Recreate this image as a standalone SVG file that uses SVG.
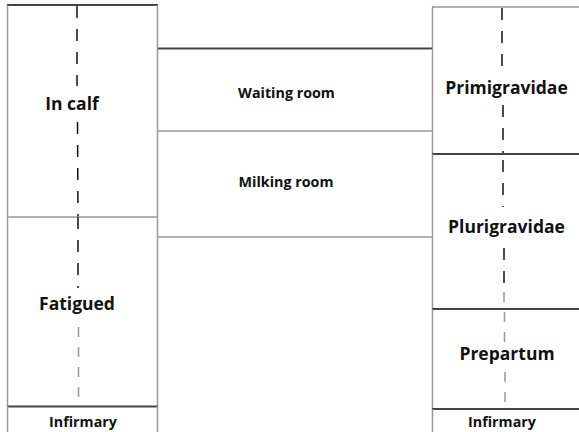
<svg xmlns="http://www.w3.org/2000/svg" width="579" height="432" viewBox="0 0 579 432">
<style>
.bg{fill:#fff}
.g{stroke:#999;stroke-width:1.5;fill:none}
.d{stroke:#444;stroke-width:2;fill:none}
.dash{stroke:#111;stroke-width:1.5;stroke-dasharray:12 11;fill:none}
.dashg{stroke:#999;stroke-width:1.5;stroke-dasharray:10 10;fill:none}
.t{font-family:"Open Sans","Liberation Sans",sans-serif;font-weight:bold;fill:#111;text-anchor:middle}
.big{font-size:17.5px}
.mid{font-size:14.3px}
.sm{font-size:14.3px}
</style>
<rect class="bg" width="579" height="432"/>
<g id="connectors">
<line class="d" x1="157" y1="48.5" x2="432" y2="48.5"/>
<line class="g" x1="157" y1="131" x2="432" y2="131"/>
<line class="g" x1="157" y1="237" x2="432" y2="237"/>
</g>
<g id="in-calf">
<line class="d" x1="7" y1="5" x2="158" y2="5"/>
<line class="g" x1="7.5" y1="5" x2="7.5" y2="217"/>
<line class="g" x1="157.5" y1="5" x2="157.5" y2="217"/>
<line class="dash" x1="77" y1="6" x2="77" y2="86"/>
<line class="dash" x1="77.5" y1="122" x2="78" y2="217"/>
<text class="t big" x="72" y="110">In calf</text>
</g>
<g id="fatigued">
<line class="g" x1="7" y1="217" x2="158" y2="217"/>
<line class="g" x1="7.5" y1="217" x2="7.5" y2="406"/>
<line class="g" x1="157.5" y1="217" x2="157.5" y2="406"/>
<line class="dash" x1="78" y1="217" x2="78" y2="288"/>
<line class="dashg" x1="78.5" y1="327" x2="78.5" y2="406"/>
<text class="t big" x="77" y="310">Fatigued</text>
</g>
<g id="infirmary-left">
<line class="d" x1="7" y1="406.5" x2="158" y2="406.5"/>
<line class="g" x1="7.5" y1="406" x2="7.5" y2="432"/>
<line class="g" x1="157.5" y1="406" x2="157.5" y2="432"/>
<text class="t sm" x="83" y="427">Infirmary</text>
</g>
<g id="waiting-room">
<text class="t mid" x="286.5" y="98">Waiting room</text>
</g>
<g id="milking-room">
<text class="t mid" x="286" y="187">Milking room</text>
</g>
<g id="primigravidae">
<line class="g" x1="432" y1="7" x2="579" y2="7"/>
<line class="g" x1="432.5" y1="7" x2="432.5" y2="154"/>
<line class="dash" x1="502" y1="8" x2="502" y2="70"/>
<line class="dash" x1="503" y1="105" x2="503" y2="154"/>
<text class="t big" x="506.5" y="94">Primigravidae</text>
</g>
<g id="plurigravidae">
<line class="d" x1="432" y1="154" x2="579" y2="154"/>
<line class="g" x1="432.5" y1="154" x2="432.5" y2="309"/>
<line class="dash" x1="503" y1="160" x2="503" y2="207"/>
<line class="dash" x1="504" y1="248" x2="504" y2="290"/>
<line class="dashg" x1="504" y1="292" x2="504" y2="309"/>
<text class="t big" x="506.5" y="233">Plurigravidae</text>
</g>
<g id="prepartum">
<line class="d" x1="432" y1="309" x2="579" y2="309"/>
<line class="g" x1="432.5" y1="309" x2="432.5" y2="409"/>
<line class="dashg" x1="504.5" y1="312" x2="504.5" y2="343"/>
<line class="dashg" x1="505" y1="372" x2="505" y2="409"/>
<text class="t big" x="507" y="360">Prepartum</text>
</g>
<g id="infirmary-right">
<line class="d" x1="432" y1="409" x2="579" y2="409"/>
<line class="g" x1="432.5" y1="409" x2="432.5" y2="432"/>
<text class="t sm" x="502" y="427">Infirmary</text>
</g>
</svg>
